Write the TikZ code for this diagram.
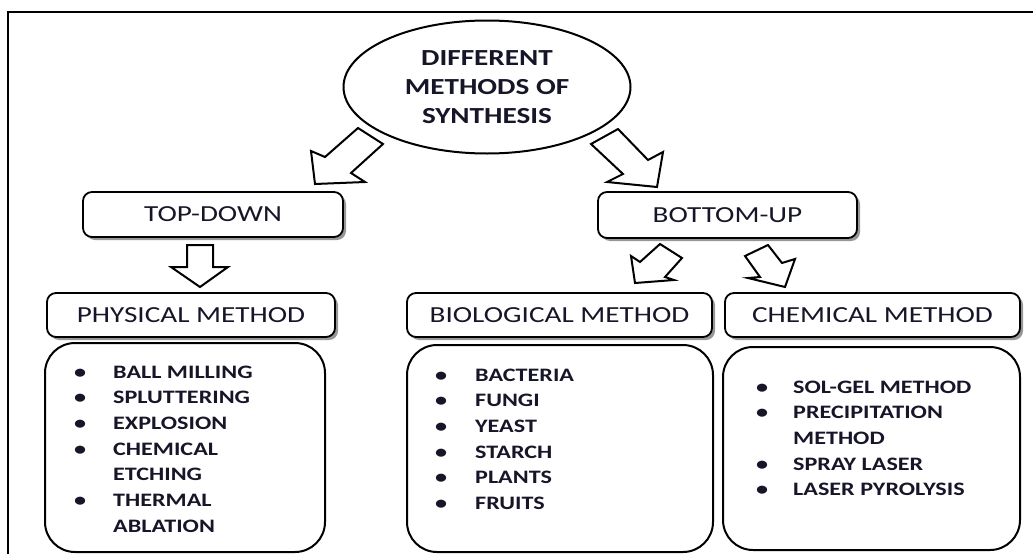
\documentclass[tikz,border=0pt]{standalone}
\usepackage{fontspec}
\setmainfont{Carlito}[FakeStretch=1.27]
\usetikzlibrary{shapes.geometric,shadows}
\definecolor{txt}{RGB}{22,22,40}
\tikzset{
  labelbox/.style={draw, line width=1.8pt, rounded corners=9pt, fill=white, text=txt,
    inner sep=0pt, font=\fontsize{23}{29}\selectfont,
    drop shadow={shadow xshift=3pt, shadow yshift=-3pt, fill=black!45, opacity=0.9}},
  listbox/.style={draw, line width=2pt, rounded corners=30pt, inner sep=0pt},
  listtext/.style={anchor=north west, inner sep=0pt, text=txt,
    font=\fontsize{19}{25.7}\selectfont\bfseries},
  blockarrow/.style={draw, line width=2pt, fill=white, line join=miter},
}
\begin{document}
\begin{tikzpicture}[x=1pt,y=-1pt]
\useasboundingbox (0,0) rectangle (1033,554);
% frame
\draw[line width=2pt] (8,554) -- (8,12) -- (1033,12);

% root
\node[ellipse, draw, line width=2pt, minimum width=287pt, minimum height=133pt,
  inner sep=0pt, align=center, text=txt, font=\fontsize{23}{29}\selectfont\bfseries]
  (root) at (487,87) {DIFFERENT\\METHODS OF\\SYNTHESIS};

% level boxes
\node[labelbox, minimum width=260pt, minimum height=45pt] (td) at (213,214.5) {TOP-DOWN};
\node[labelbox, minimum width=259pt, minimum height=46pt] (bu) at (727.5,215) {BOTTOM-UP};
\node[labelbox, minimum width=288pt, minimum height=44pt] (phys) at (191,315) {PHYSICAL METHOD};
\node[labelbox, minimum width=305pt, minimum height=44pt] (bio) at (559.5,315) {BIOLOGICAL METHOD};
\node[labelbox, minimum width=295pt, minimum height=44pt] (chem) at (872.5,315) {CHEMICAL METHOD};

% list boxes
\node[listbox, minimum width=280pt, minimum height=209pt] (physbox) at (185,447.5) {};
\node[listbox, minimum width=306pt, minimum height=207pt] (biobox) at (560,448.5) {};
\node[listbox, minimum width=297pt, minimum height=203pt] (chembox) at (871.5,448.5) {};

\node[listtext] (physlist) at (74,360) {\begin{tabular}{@{}l@{}l@{}}
\makebox[39pt][l]{•} & BALL MILLING\\
\makebox[39pt][l]{•} & SPLUTTERING\\
\makebox[39pt][l]{•} & EXPLOSION\\
\makebox[39pt][l]{•} & CHEMICAL\\
 & ETCHING\\
\makebox[39pt][l]{•} & THERMAL\\
 & ABLATION
\end{tabular}};

\node[listtext] (biolist) at (435,363) {\begin{tabular}{@{}l@{}l@{}}
\makebox[40pt][l]{•} & BACTERIA\\
\makebox[40pt][l]{•} & FUNGI\\
\makebox[40pt][l]{•} & YEAST\\
\makebox[40pt][l]{•} & STARCH\\
\makebox[40pt][l]{•} & PLANTS\\
\makebox[40pt][l]{•} & FRUITS
\end{tabular}};

\node[listtext] (chemlist) at (756,375) {\begin{tabular}{@{}l@{}l@{}}
\makebox[37pt][l]{•} & SOL-GEL METHOD\\
\makebox[37pt][l]{•} & PRECIPITATION\\
 & METHOD\\
\makebox[37pt][l]{•} & SPRAY LASER\\
\makebox[37pt][l]{•} & LASER PYROLYSIS
\end{tabular}};

% block arrows
\draw[blockarrow] (358,128) -- (383,144) -- (351,173) -- (365,182) -- (315,184) -- (311,151) -- (325,157) -- cycle;
\draw[blockarrow] (618,129) -- (591,144) -- (623,174) -- (607,182) -- (657,187) -- (663,152) -- (648,160) -- cycle;
\draw[blockarrow] (187,245) -- (213,245) -- (213,267) -- (228,267) -- (200,287) -- (171,267) -- (187,267) -- cycle;
\draw[blockarrow] (660,244) -- (682,258) -- (665,277) -- (674,280) -- (635,283) -- (631,256) -- (640,262) -- cycle;
\draw[blockarrow] (768,245) -- (745,256) -- (760,277) -- (748,278) -- (785,287) -- (795,259) -- (782,263) -- cycle;
\end{tikzpicture}
\end{document}
